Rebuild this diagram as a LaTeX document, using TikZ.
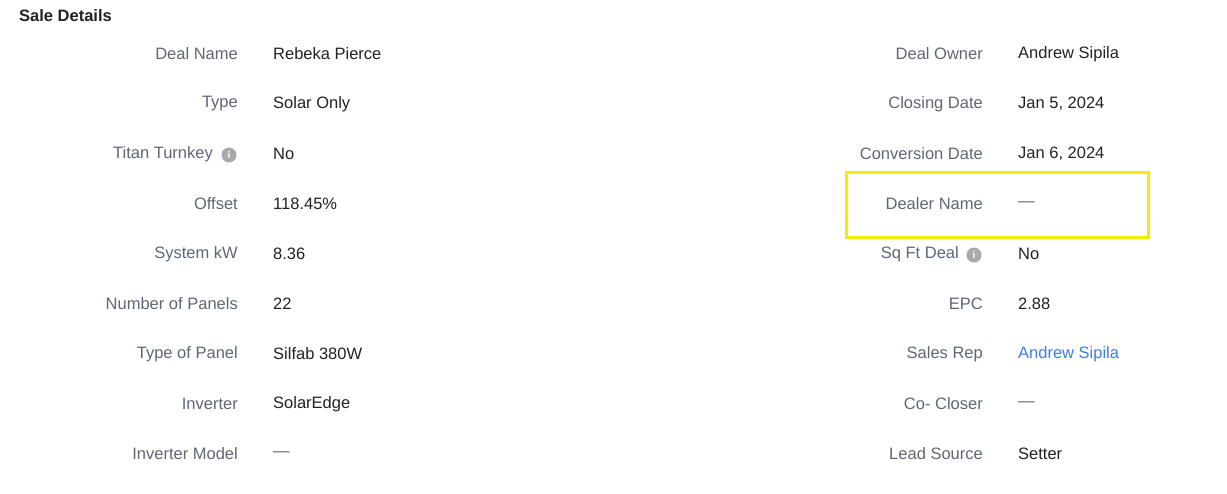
\documentclass[tikz,border=0pt]{standalone}
\usepackage{fontspec}
\setmainfont{Liberation Sans}
\definecolor{lab}{HTML}{5F6673}
\definecolor{val}{HTML}{222222}
\definecolor{lnk}{HTML}{3C80E0}
\definecolor{hl}{HTML}{F7EC00}
\definecolor{ico}{HTML}{A9A9A9}
\tikzset{
  lbl/.style={anchor=east, text=lab, font=\fontsize{16.5}{18}\selectfont, inner sep=0},
  vl/.style={anchor=west, text=val, font=\fontsize{16.5}{18}\selectfont, inner sep=0},
  vg/.style={anchor=west, text=lab, font=\fontsize{16.5}{18}\selectfont, inner sep=0},
  vb/.style={anchor=west, text=lnk, font=\fontsize{16.5}{18}\selectfont, inner sep=0},
  info/.style={circle, fill=ico, minimum size=15pt, inner sep=0, text=white, font=\bfseries\fontsize{10}{10}\selectfont},
  hbox/.style={draw=hl, line width=3pt}
}
\begin{document}
\begin{tikzpicture}[x=1pt,y=-1pt]
\useasboundingbox (0,0) rectangle (1227,493);
\node[anchor=west, text=val, font=\bfseries\fontsize{16.5}{18}\selectfont, inner sep=0] (title) at (19,16) {Sale Details};
\node[lbl] (l1) at (238,54) {Deal Name};
\node[vl] (v1) at (273,54) {Rebeka Pierce};
\node[lbl] (l2) at (238,104) {Type};
\node[vl] (v2) at (273,104) {Solar Only};
\node[lbl] (l3) at (213,154) {Titan Turnkey};
\node[info] (i3) at (229,155) {i};
\node[vl] (v3) at (273,154) {No};
\node[lbl] (l4) at (238,204) {Offset};
\node[vl] (v4) at (273,204) {118.45\%};
\node[lbl] (l5) at (238,254) {System kW};
\node[vl] (v5) at (273,254) {8.36};
\node[lbl] (l6) at (238,304) {Number of Panels};
\node[vl] (v6) at (273,304) {22};
\node[lbl] (l7) at (238,354) {Type of Panel};
\node[vl] (v7) at (273,354) {Silfab 380W};
\node[lbl] (l8) at (238,404) {Inverter};
\node[vl] (v8) at (273,404) {SolarEdge};
\node[lbl] (l9) at (238,454) {Inverter Model};
\node[vg] (v9) at (273,454) {—};
\node[lbl] (r1) at (983,54) {Deal Owner};
\node[vl] (w1) at (1018,54) {Andrew Sipila};
\node[lbl] (r2) at (983,104) {Closing Date};
\node[vl] (w2) at (1018,104) {Jan 5, 2024};
\node[lbl] (r3) at (983,154) {Conversion Date};
\node[vl] (w3) at (1018,154) {Jan 6, 2024};
\node[lbl] (r4) at (983,204) {Dealer Name};
\node[vg] (w4) at (1018,204) {—};
\node[lbl] (r5) at (959,254) {Sq Ft Deal};
\node[info] (i5) at (974,255) {i};
\node[vl] (w5) at (1018,254) {No};
\node[lbl] (r6) at (983,304) {EPC};
\node[vl] (w6) at (1018,304) {2.88};
\node[lbl] (r7) at (983,354) {Sales Rep};
\node[vb] (w7) at (1018,354) {Andrew Sipila};
\node[lbl] (r8) at (983,404) {Co- Closer};
\node[vg] (w8) at (1018,404) {—};
\node[lbl] (r9) at (983,454) {Lead Source};
\node[vl] (w9) at (1018,454) {Setter};
\draw[hbox] (846.5,172.5) rectangle (1148.5,237.5);
\end{tikzpicture}
\end{document}
